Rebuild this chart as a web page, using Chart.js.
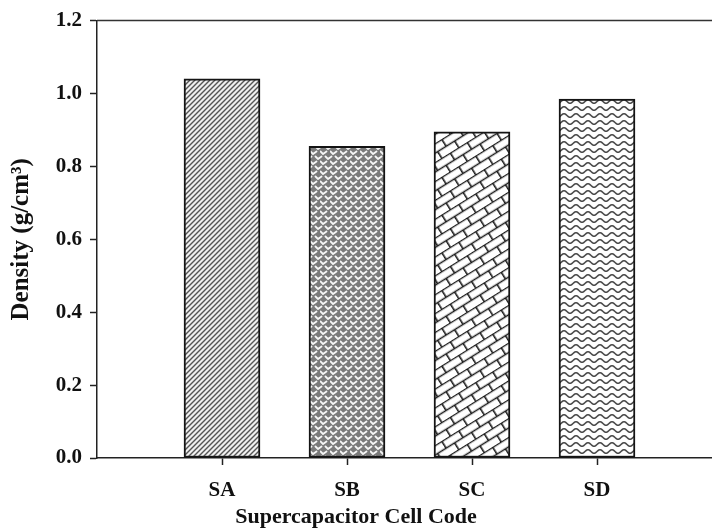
<!DOCTYPE html>
<html>
<head>
<meta charset="utf-8">
<script src="https://cdn.jsdelivr.net/npm/chart.js@4.4.1/dist/chart.umd.min.js"></script>
<style>
  html, body { margin: 0; padding: 0; background: #fff; }
  #wrap { width: 712px; height: 528px; }
</style>
</head>
<body>
<div id="wrap"><canvas id="c" width="712" height="528"></canvas></div>
<script>
// Cell codes and their measured densities (g/cm3)
const cellCodes = ['SA', 'SB', 'SC', 'SD'];
const cellPositions = [1, 2, 3, 4];
const densities = [1.04, 0.855, 0.895, 0.985];
const yTicks = [0, 0.2, 0.4, 0.6, 0.8, 1.0, 1.2];

const FONT = '"Liberation Serif", "Times New Roman", serif';
const INK = '#111';

// ---- hatch fills -------------------------------------------------------
function tile(w, h, bg, draw) {
  const c = document.createElement('canvas');
  c.width = w; c.height = h;
  const g = c.getContext('2d');
  g.fillStyle = bg;
  g.fillRect(0, 0, w, h);
  draw(g, w, h);
  return c;
}
const ctx0 = document.createElement('canvas').getContext('2d');

// dense forward diagonals
function diagonalFill() {
  const t = tile(5, 5, '#f0f0f0', (g, w, h) => {
    g.strokeStyle = '#555';
    g.lineWidth = 1.4;
    g.beginPath();
    g.moveTo(-1, 1); g.lineTo(1, -1);
    g.moveTo(0, h); g.lineTo(w, 0);
    g.moveTo(w - 1, h + 1); g.lineTo(w + 1, h - 1);
    g.stroke();
  });
  return ctx0.createPattern(t, 'repeat');
}

// woven chevrons on grey
function weaveFill() {
  const t = tile(10, 10, '#7a7a7a', (g) => {
    g.strokeStyle = '#f6f6f6';
    g.lineWidth = 1.8;
    g.lineCap = 'round';
    g.beginPath();
    g.moveTo(0.5, 1.5); g.lineTo(3, 4); g.lineTo(6.5, 1.5);
    g.moveTo(5.5, 6.5); g.lineTo(8, 9); g.lineTo(11.5, 6.5);
    g.moveTo(-4.5, 6.5); g.lineTo(-2, 9); g.lineTo(1.5, 6.5);
    g.stroke();
  });
  return ctx0.createPattern(t, 'repeat');
}

// tilted brick courses
function brickFill() {
  const t = tile(20, 16, '#ffffff', (g) => {
    g.strokeStyle = '#1a1a1a';
    g.lineWidth = 1.6;
    g.beginPath();
    g.moveTo(0, 0.5); g.lineTo(20, 0.5);
    g.moveTo(0, 8.5); g.lineTo(20, 8.5);
    g.moveTo(0.8, 0); g.lineTo(0.8, 8.5);
    g.moveTo(10.8, 8.5); g.lineTo(10.8, 16);
    g.stroke();
  });
  const p = ctx0.createPattern(t, 'repeat');
  p.setTransform(new DOMMatrix().rotateSelf(-32));
  return p;
}

// horizontal waves
function waveFill() {
  const t = tile(12, 7, '#ffffff', (g, w) => {
    g.strokeStyle = '#4a4a4a';
    g.lineWidth = 1.6;
    g.beginPath();
    for (let x = 0; x <= w; x += 0.5) {
      const y = 3.5 - 1.8 * Math.cos((x / w) * Math.PI * 2);
      if (x === 0) g.moveTo(x, y); else g.lineTo(x, y);
    }
    g.stroke();
  });
  return ctx0.createPattern(t, 'repeat');
}

const fills = [diagonalFill(), weaveFill(), brickFill(), waveFill()];

// frame line along the top of the plot
const topFrame = {
  id: 'topFrame',
  afterDraw(chart) {
    const { ctx, chartArea, scales } = chart;
    const y = scales.y.getPixelForValue(1.2);
    ctx.save();
    ctx.strokeStyle = '#333';
    ctx.lineWidth = 1.5;
    ctx.beginPath();
    ctx.moveTo(chartArea.left, y);
    ctx.lineTo(chart.width, y);
    ctx.stroke();
    ctx.restore();
  }
};

new Chart(document.getElementById('c'), {
  type: 'bar',
  data: {
    datasets: [{
      data: cellPositions.map((x, i) => ({ x: x, y: densities[i] })),
      backgroundColor: fills,
      borderColor: '#141414',
      borderWidth: 2,
      barThickness: 76,
      borderSkipped: false
    }]
  },
  plugins: [topFrame],
  options: {
    responsive: false,
    animation: false,
    layout: { padding: { top: 20, right: 0, left: 0, bottom: 0 } },
    plugins: {
      legend: { display: false },
      tooltip: { enabled: false },
      title: {
        display: true,
        position: 'bottom',
        text: 'Supercapacitor Cell Code',
        color: INK,
        font: { family: FONT, size: 22, weight: 'bold', lineHeight: 1 },
        padding: { top: 0, bottom: 0 }
      }
    },
    scales: {
      x: {
        type: 'linear',
        offset: false,
        min: 0,
        max: 4.92,
        afterBuildTicks: s => { s.ticks = cellPositions.map(v => ({ value: v })); },
        afterFit: s => { s.height = 48; },
        grid: { offset: false, drawOnChartArea: false, tickLength: 7, tickColor: '#222', tickWidth: 1.5 },
        border: { display: true, color: '#222', width: 1.5 },
        ticks: {
          padding: 13,
          color: INK,
          font: { family: FONT, size: 21, weight: 'bold' },
          callback: v => cellCodes[cellPositions.indexOf(v)] || ''
        }
      },
      y: {
        min: 0,
        max: 1.2,
        afterBuildTicks: s => { s.ticks = yTicks.map(v => ({ value: v })); },
        afterFit: s => { s.width = 97; },
        grid: { drawOnChartArea: false, tickLength: 7, tickColor: '#222', tickWidth: 1.5 },
        border: { display: true, color: '#222', width: 1.5 },
        ticks: {
          padding: 8,
          color: INK,
          font: { family: FONT, size: 21, weight: 'bold' },
          callback: v => Number(v).toFixed(1)
        },
        title: {
          display: true,
          text: 'Density (g/cm\u00B3)',
          color: INK,
          font: { family: FONT, size: 25, weight: 'bold', lineHeight: 1.2 },
          padding: { top: 7, bottom: 0 }
        }
      }
    }
  }
});
</script>
</body>
</html>
